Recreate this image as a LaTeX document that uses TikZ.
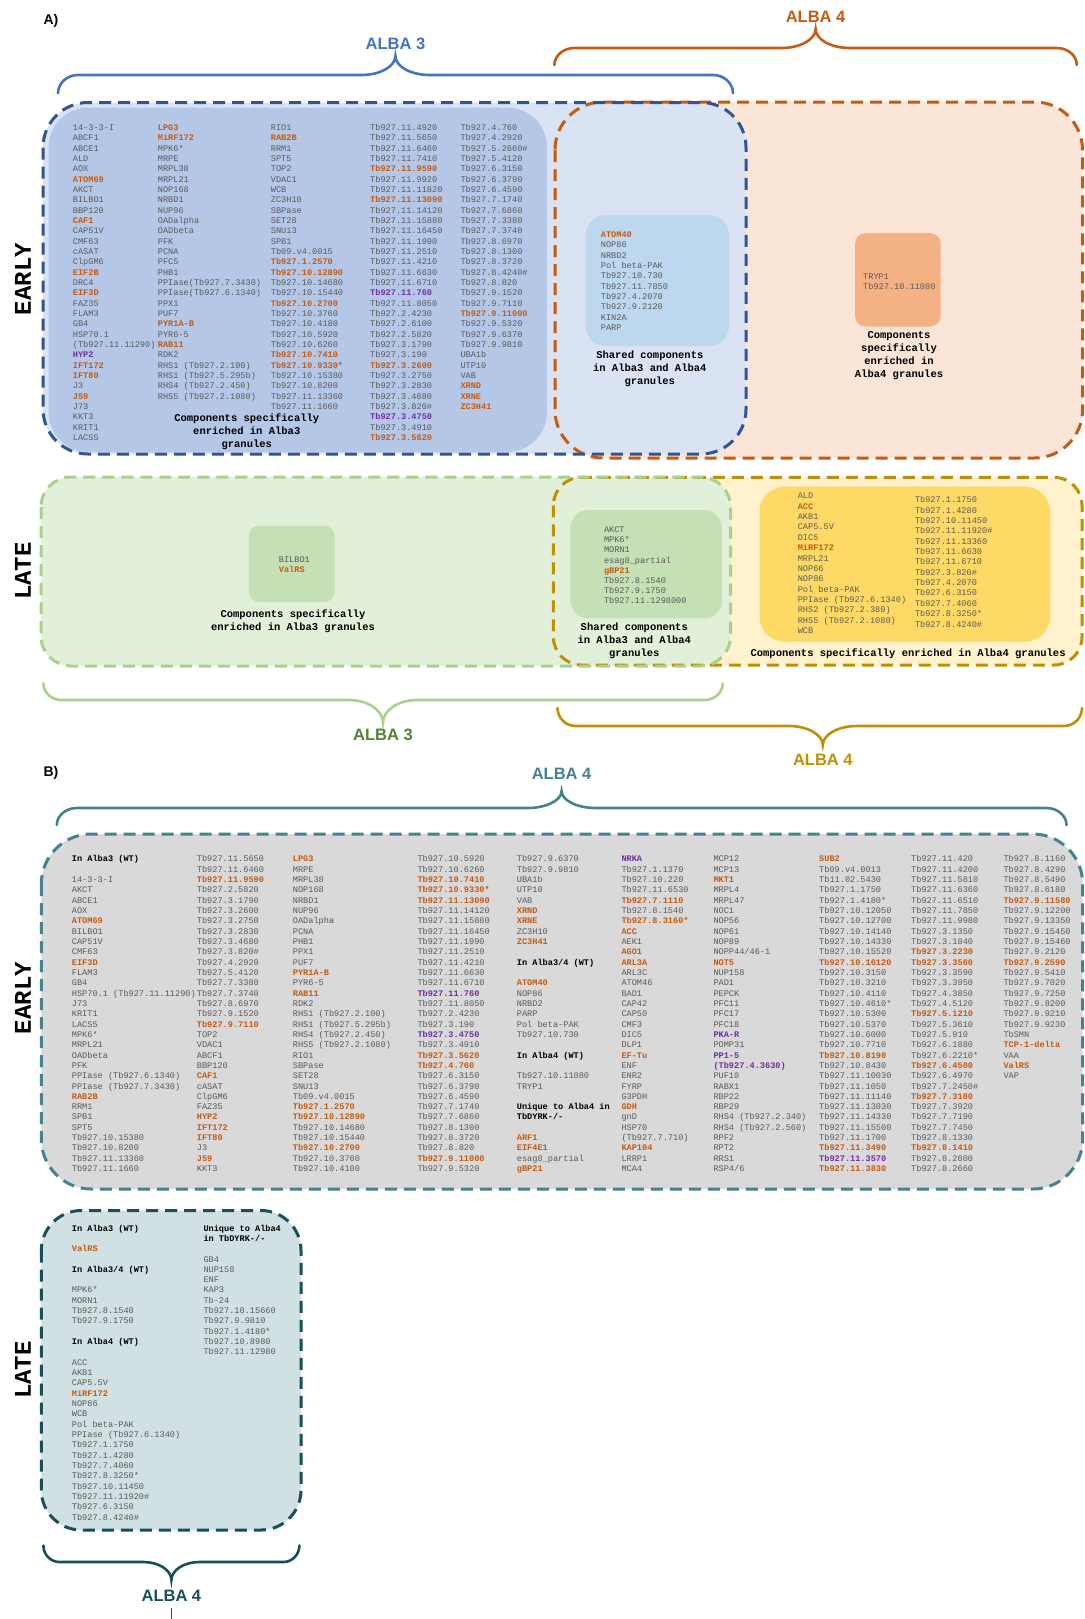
\documentclass[tikz,border=0pt]{standalone}
\usepackage{fontspec}
\setmainfont{Liberation Sans}
\newfontfamily\monof{Liberation Mono}
\newfontfamily\sansf{Liberation Sans}
\definecolor{tgrey}{HTML}{595959}
\definecolor{orng}{HTML}{C55A11}
\definecolor{purp}{HTML}{7030A0}
\definecolor{blueL}{HTML}{4472C4}
\definecolor{blueD}{HTML}{2F5597}
\definecolor{blueFill}{HTML}{DAE3F3}
\definecolor{blueBox}{HTML}{B4C7E7}
\definecolor{skyBox}{HTML}{BDD7EE}
\definecolor{orFill}{HTML}{FBE5D6}
\definecolor{orBox}{HTML}{F4B183}
\definecolor{grFill}{HTML}{E2F0D9}
\definecolor{grLine}{HTML}{A9D18E}
\definecolor{grBox}{HTML}{C5E0B4}
\definecolor{grText}{HTML}{548235}
\definecolor{gdFill}{HTML}{FFF2CC}
\definecolor{gdLine}{HTML}{BF9000}
\definecolor{gdBox}{HTML}{FFD966}
\definecolor{gyFill}{HTML}{D9D9D9}
\definecolor{tealL}{HTML}{45818E}
\definecolor{tealFill}{HTML}{D0E0E3}
\definecolor{tealD}{HTML}{174F5B}
\newcommand\orn[1]{\textcolor{orng}{\bfseries #1}}
\newcommand\pur[1]{\textcolor{purp}{\bfseries #1}}
\newcommand\hdr[1]{\textcolor{black}{\bfseries #1}}
% brace: #1 style, #2 L, #3 R, #4 ends y, #5 bar y, #6 tip y, #7 tip x, #8 end radius, #9 tip radius
\newcommand\brc[9]{\draw[#1] (#2,#4) .. controls (#2,{#4+0.55*(#5-#4)}) and ({#2+0.45*#8},#5) .. ({#2+#8},#5) -- ({#7-#9},#5) .. controls ({#7-0.45*#9},#5) and (#7,{#5+0.45*(#6-#5)}) .. (#7,#6) .. controls (#7,{#5+0.45*(#6-#5)}) and ({#7+0.45*#9},#5) .. ({#7+#9},#5) -- ({#3-#8},#5) .. controls ({#3-0.45*#8},#5) and (#3,{#4+0.55*(#5-#4)}) .. (#3,#4);}
\begin{document}
\begin{tikzpicture}[x=1pt,y=-1pt,
  lst/.style={font=\monof\fontsize{8.6}{10.33}\selectfont, text=tgrey, align=left, anchor=north west, inner sep=0pt},
  lbl/.style={font=\monof\bfseries\fontsize{10.5}{13}\selectfont, align=center, anchor=north, inner sep=0pt, text=black},
  hd/.style={font=\sansf\bfseries\fontsize{16.5}{18}\selectfont, inner sep=0pt},
  side/.style={font=\monof\bfseries\fontsize{24}{26}\selectfont, rotate=90, inner sep=0pt, text=black},
  bstroke/.style={line width=2.6pt, line cap=round},
  dsh/.style={line width=3pt, dash pattern=on 12pt off 7pt}]
\useasboundingbox (0,0) rectangle (1084,1619);
\fill[white] (0,0) rectangle (1084,1619);

% ================= Panel A =================
\node[font=\sansf\bfseries\fontsize{14}{16}\selectfont, inner sep=0pt] (labA) at (51,21) {A)};
\node[hd, text=blueL] (alba3top) at (395.4,44.3) {ALBA 3};
\node[hd, text=orng] (alba4top) at (815.6,16.5) {ALBA 4};
\brc{bstroke, blueL}{58}{733}{93.3}{75}{56}{395.4}{20}{34}
\brc{bstroke, orng}{554.4}{1076.8}{65}{48}{29}{815.6}{20}{34}

% early fills
\fill[orFill, rounded corners=48pt] (555,102) rectangle (1082.5,458);
\fill[blueFill, rounded corners=45pt] (43,102.5) rectangle (746,454);
\fill[blueBox, rounded corners=40pt] (48.5,107.5) rectangle (547,452);
\fill[skyBox, rounded corners=20pt] (585.7,215) rectangle (729,346);
\fill[orBox, rounded corners=11pt] (855,233) rectangle (940.7,326.7);
\draw[dsh, orng, rounded corners=48pt] (555,102) rectangle (1082.5,458);
\draw[dsh, blueD, rounded corners=45pt] (43,102.5) rectangle (746,454);

\node[side] (earlyA) at (23,279) {EARLY};

\node[lst] (ae1) at (72.7,123) {\strut 14-3-3-I\\ ABCF1\\ ABCE1\\ ALD\\ AOX\\ \orn{ATOM69}\\ AKCT\\ BILBO1\\ BBP120\\ \orn{CAF1}\\ CAP51V\\ CMF63\\ cASAT\\ ClpGM6\\ \orn{EIF2B}\\ DRC4\\ \orn{EIF3D}\\ FAZ35\\ FLAM3\\ GB4\\ HSP70.1\\ (Tb927.11.11290)\\ \pur{HYP2}\\ \orn{IFT172}\\ \orn{IFT80}\\ J3\\ \orn{J59}\\ J73\\ KKT3\\ KRIT1\\ LACS5};
\node[lst] (ae2) at (157.7,123) {\strut \orn{LPG3}\\ \orn{MiRF172}\\ MPK6*\\ MRPE\\ MRPL38\\ MRPL21\\ NOP168\\ NRBD1\\ NUP96\\ OADalpha\\ OADbeta\\ PFK\\ PCNA\\ PFC5\\ PHB1\\ PPIase(Tb927.7.3430)\\ PPIase(Tb927.6.1340)\\ PPX1\\ PUF7\\ \orn{PYR1A-B}\\ PYR6-5\\ \orn{RAB11}\\ RDK2\\ RHS1 (Tb927.2.100)\\ RHS1 (Tb927.5.295b)\\ RHS4 (Tb927.2.450)\\ RHS5 (Tb927.2.1080)};
\node[lst] (ae3) at (270.7,123) {\strut RIO1\\ \orn{RAB2B}\\ RRM1\\ SPT5\\ TOP2\\ VDAC1\\ WCB\\ ZC3H10\\ SBPase\\ SET28\\ SNU13\\ SPB1\\ Tb09.v4.0015\\ \orn{Tb927.1.2570}\\ \orn{Tb927.10.12890}\\ Tb927.10.14680\\ Tb927.10.15440\\ \orn{Tb927.10.2700}\\ Tb927.10.3760\\ Tb927.10.4180\\ Tb927.10.5920\\ Tb927.10.6260\\ \orn{Tb927.10.7410}\\ \orn{Tb927.10.9330*}\\ Tb927.10.15380\\ Tb927.10.8200\\ Tb927.11.13360\\ Tb927.11.1660};
\node[lst] (ae4) at (370,123) {\strut Tb927.11.4920\\ Tb927.11.5650\\ Tb927.11.6460\\ Tb927.11.7410\\ \orn{Tb927.11.9590}\\ Tb927.11.9920\\ Tb927.11.11820\\ \orn{Tb927.11.13090}\\ Tb927.11.14120\\ Tb927.11.15880\\ Tb927.11.16450\\ Tb927.11.1990\\ Tb927.11.2510\\ Tb927.11.4210\\ Tb927.11.6630\\ Tb927.11.6710\\ \pur{Tb927.11.760}\\ Tb927.11.8050\\ Tb927.2.4230\\ Tb927.2.6100\\ Tb927.2.5820\\ Tb927.3.1790\\ Tb927.3.190\\ \orn{Tb927.3.2600}\\ Tb927.3.2750\\ Tb927.3.2830\\ Tb927.3.4680\\ Tb927.3.820\#\\ \pur{Tb927.3.4750}\\ Tb927.3.4910\\ \orn{Tb927.3.5620}};
\node[lst] (ae5) at (460.3,123) {\strut Tb927.4.760\\ Tb927.4.2920\\ Tb927.5.2660\#\\ Tb927.5.4120\\ Tb927.6.3150\\ Tb927.6.3790\\ Tb927.6.4590\\ Tb927.7.1740\\ Tb927.7.6860\\ Tb927.7.3380\\ Tb927.7.3740\\ Tb927.8.6970\\ Tb927.8.1300\\ Tb927.8.3720\\ Tb927.8.4240\#\\ Tb927.8.820\\ Tb927.9.1520\\ Tb927.9.7110\\ \orn{Tb927.9.11000}\\ Tb927.9.5320\\ Tb927.9.6370\\ Tb927.9.9810\\ UBA1b\\ UTP10\\ VAB\\ \orn{XRND}\\ \orn{XRNE}\\ \orn{ZC3H41}};
\node[lbl] (aeLbl) at (246.8,412.25) {\strut Components specifically\\enriched in Alba3\\granules};

\node[lst] (aeShared) at (600.7,230) {\strut \orn{ATOM40}\\ NOP86\\ NRBD2\\ Pol beta-PAK\\ Tb927.10.730\\ Tb927.11.7850\\ Tb927.4.2070\\ Tb927.9.2120\\ KIN2A\\ PARP};
\node[lbl] (aeSharedLbl) at (649.8,348.95) {\strut Shared components\\in Alba3 and Alba4\\granules};

\node[lst, font=\monof\fontsize{8.6}{10}\selectfont] (aeTryp) at (863,272) {\strut TRYP1\\ Tb927.10.11080};
\node[lbl] (aeTrypLbl) at (899,328.95) {\strut Components\\specifically\\enriched in\\Alba4 granules};

% late fills
\fill[gdFill, rounded corners=28pt] (553.4,477.3) rectangle (1082,665);
\fill[grFill, rounded corners=30pt] (41,477) rectangle (730.5,666);
\fill[grBox, rounded corners=10pt] (248.8,525.5) rectangle (334.5,602);
\fill[grBox, rounded corners=18pt] (570.4,510) rectangle (722,618.3);
\fill[gdBox, rounded corners=25pt] (759.5,486.7) rectangle (1050,641.7);
\draw[dsh, gdLine, rounded corners=28pt] (553.4,477.3) rectangle (1082,665);
\draw[dsh, grLine, rounded corners=30pt] (41,477) rectangle (730.5,666);

\node[side] (lateA) at (23,571) {LATE};

\node[lst] (alBil) at (278.7,554.9) {\strut BILBO1\\ \orn{ValRS}};
\node[lbl] (alBilLbl) at (293,608.25) {\strut Components specifically\\enriched in Alba3 granules};

\node[lst, font=\monof\fontsize{8.6}{10.14}\selectfont] (alShared) at (603.8,525.3) {\strut AKCT\\ MPK6*\\ MORN1\\ esag8\_partial\\ \orn{gBP21}\\ Tb927.8.1540\\ Tb927.9.1750\\ Tb927.11.1298000};
\node[lbl] (alSharedLbl) at (634.3,621.65) {\strut Shared components\\in Alba3 and Alba4\\granules};

\node[lst, font=\monof\fontsize{8.6}{10.38}\selectfont] (al4a) at (797.6,491.3) {\strut ALD\\ \orn{ACC}\\ AKB1\\ CAP5.5V\\ DIC5\\ \orn{MiRF172}\\ MRPL21\\ NOP66\\ NOP86\\ Pol beta-PAK\\ PPIase (Tb927.6.1340)\\ RHS2 (Tb927.2.380)\\ RHS5 (Tb927.2.1080)\\ WCB};
\node[lst, font=\monof\fontsize{8.6}{10.36}\selectfont] (al4b) at (914.8,495.3) {\strut Tb927.1.1750\\ Tb927.1.4280\\ Tb927.10.11450\\ Tb927.11.11920\#\\ Tb927.11.13360\\ Tb927.11.6630\\ Tb927.11.6710\\ Tb927.3.820\#\\ Tb927.4.2070\\ Tb927.6.3150\\ Tb927.7.4060\\ Tb927.8.3250*\\ Tb927.8.4240\#};
\node[lbl] (al4Lbl) at (908.1,647.65) {\strut Components specifically enriched in Alba4 granules};

\brc{bstroke, grLine}{43.4}{722.7}{683.5}{700}{722.7}{383}{18}{34}
\brc{bstroke, gdLine}{557.5}{1082}{708}{726}{745}{822.8}{18}{34}
\node[hd, text=grText] (alba3bot) at (383,735) {ALBA 3};
\node[hd, text=gdLine] (alba4bot) at (822.8,760) {ALBA 4};

% ================= Panel B =================
\node[font=\sansf\bfseries\fontsize{14}{16}\selectfont, inner sep=0pt] (labB) at (51,773) {B)};
\node[hd, text=tealL] (alba4B) at (561.6,774) {ALBA 4};
\brc{bstroke, tealL}{56.8}{1066.5}{825}{808}{791}{561.6}{20}{34}

\fill[gyFill, rounded corners=50pt] (41.3,834) rectangle (1082.7,1189);
\draw[dsh, tealL, rounded corners=50pt] (41.3,834) rectangle (1082.7,1189);
\node[side] (earlyB) at (23,998) {EARLY};

\node[lst] (be1) at (71.7,854.3) {\strut \hdr{In Alba3 (WT)}\\ \\ 14-3-3-I\\ AKCT\\ ABCE1\\ AOX\\ \orn{ATOM69}\\ BILBO1\\ CAP51V\\ CMF63\\ \orn{EIF3D}\\ FLAM3\\ GB4\\ HSP70.1 (Tb927.11.11290)\\ J73\\ KRIT1\\ LACS5\\ MPK6*\\ MRPL21\\ OADbeta\\ PFK\\ PPIase (Tb927.6.1340)\\ PPIase (Tb927.7.3430)\\ \orn{RAB2B}\\ RRM1\\ SPB1\\ SPT5\\ Tb927.10.15380\\ Tb927.10.8200\\ Tb927.11.13360\\ Tb927.11.1660};
\node[lst] (be2) at (196.7,854.3) {\strut Tb927.11.5650\\ Tb927.11.6460\\ \orn{Tb927.11.9590}\\ Tb927.2.5820\\ Tb927.3.1790\\ Tb927.3.2600\\ Tb927.3.2750\\ Tb927.3.2830\\ Tb927.3.4680\\ Tb927.3.820\#\\ Tb927.4.2920\\ Tb927.5.4120\\ Tb927.7.3380\\ Tb927.7.3740\\ Tb927.8.6970\\ Tb927.9.1520\\ \orn{Tb927.9.7110}\\ TOP2\\ VDAC1\\ ABCF1\\ BBP120\\ \orn{CAF1}\\ cASAT\\ ClpGM6\\ FAZ35\\ \orn{HYP2}\\ \orn{IFT172}\\ \orn{IFT80}\\ J3\\ \orn{J59}\\ KKT3};
\node[lst] (be3) at (292.7,854.3) {\strut \orn{LPG3}\\ MRPE\\ MRPL38\\ NOP168\\ NRBD1\\ NUP96\\ OADalpha\\ PCNA\\ PHB1\\ PPX1\\ PUF7\\ \orn{PYR1A-B}\\ PYR6-5\\ \orn{RAB11}\\ RDK2\\ RHS1 (Tb927.2.100)\\ RHS1 (Tb927.5.295b)\\ RHS4 (Tb927.2.450)\\ RHS5 (Tb927.2.1080)\\ RIO1\\ SBPase\\ SET28\\ SNU13\\ Tb09.v4.0015\\ \orn{Tb927.1.2570}\\ \orn{Tb927.10.12890}\\ Tb927.10.14680\\ Tb927.10.15440\\ \orn{Tb927.10.2700}\\ Tb927.10.3760\\ Tb927.10.4180};
\node[lst] (be4) at (417.3,854.3) {\strut Tb927.10.5920\\ Tb927.10.6260\\ \orn{Tb927.10.7410}\\ \orn{Tb927.10.9330*}\\ \orn{Tb927.11.13090}\\ Tb927.11.14120\\ Tb927.11.15880\\ Tb927.11.16450\\ Tb927.11.1990\\ Tb927.11.2510\\ Tb927.11.4210\\ Tb927.11.6630\\ Tb927.11.6710\\ \pur{Tb927.11.760}\\ Tb927.11.8050\\ Tb927.2.4230\\ Tb927.3.190\\ \pur{Tb927.3.4750}\\ Tb927.3.4910\\ \orn{Tb927.3.5620}\\ \orn{Tb927.4.760}\\ Tb927.6.3150\\ Tb927.6.3790\\ Tb927.6.4590\\ Tb927.7.1740\\ Tb927.7.6860\\ Tb927.8.1300\\ Tb927.8.3720\\ Tb927.8.820\\ \orn{Tb927.9.11000}\\ Tb927.9.5320};
\node[lst] (be5) at (516.7,854.3) {\strut Tb927.9.6370\\ Tb927.9.9810\\ UBA1b\\ UTP10\\ VAB\\ \orn{XRND}\\ \orn{XRNE}\\ ZC3H10\\ \orn{ZC3H41}\\ \\ \hdr{In Alba3/4 (WT)}\\ \\ \orn{ATOM40}\\ NOP86\\ NRBD2\\ PARP\\ Pol beta-PAK\\ Tb927.10.730\\ \\ \hdr{In Alba4 (WT)}\\ \\ Tb927.10.11080\\ TRYP1\\ \\ \hdr{Unique to Alba4 in}\\ \hdr{TbDYRK-/-}\\ \\ \orn{ARF1}\\ \orn{EIF4E1}\\ esag8\_partial\\ \orn{gBP21}};
\node[lst] (be6) at (621.3,854.3) {\strut \pur{NRKA}\\ Tb927.1.1370\\ Tb927.10.220\\ Tb927.11.6530\\ \orn{Tb927.7.1110}\\ Tb927.8.1540\\ \orn{Tb927.8.3160*}\\ \orn{ACC}\\ AEK1\\ \orn{AGO1}\\ \orn{ARL3A}\\ ARL3C\\ ATOM46\\ BAD1\\ CAP42\\ CAP50\\ CMF3\\ DIC5\\ DLP1\\ \orn{EF-Tu}\\ ENF\\ ENR2\\ FYRP\\ G3PDH\\ \orn{GDH}\\ gnD\\ HSP70\\ (Tb927.7.710)\\ \orn{KAP104}\\ LRRP1\\ MCA4};
\node[lst] (be7) at (713.3,854.3) {\strut MCP12\\ MCP13\\ \orn{MKT1}\\ MRPL4\\ MRPL47\\ NOC1\\ NOP56\\ NOP61\\ NOP89\\ NOPP44/46-1\\ \orn{NOT5}\\ NUP158\\ PAD1\\ PEPCK\\ PFC11\\ PFC17\\ PFC18\\ \pur{PKA-R}\\ POMP31\\ \pur{PP1-5}\\ \pur{(Tb927.4.3630)}\\ PUF10\\ RABX1\\ RBP22\\ RBP29\\ RHS4 (Tb927.2.340)\\ RHS4 (Tb927.2.560)\\ RPF2\\ RPT2\\ RRS1\\ RSP4/6};
\node[lst] (be8) at (819,854.3) {\strut \orn{SUB2}\\ Tb09.v4.0013\\ Tb11.02.5430\\ Tb927.1.1750\\ Tb927.1.4180*\\ Tb927.10.12050\\ Tb927.10.12700\\ Tb927.10.14140\\ Tb927.10.14330\\ Tb927.10.15520\\ \orn{Tb927.10.16120}\\ Tb927.10.3150\\ Tb927.10.3210\\ Tb927.10.4110\\ Tb927.10.4610*\\ Tb927.10.5300\\ Tb927.10.5370\\ Tb927.10.6000\\ Tb927.10.7710\\ \orn{Tb927.10.8190}\\ Tb927.10.8430\\ Tb927.11.10030\\ Tb927.11.1050\\ Tb927.11.11140\\ Tb927.11.13030\\ Tb927.11.14330\\ Tb927.11.15500\\ Tb927.11.1700\\ \orn{Tb927.11.3490}\\ \pur{Tb927.11.3570}\\ \orn{Tb927.11.3830}};
\node[lst] (be9) at (911,854.3) {\strut Tb927.11.420\\ Tb927.11.4200\\ Tb927.11.5810\\ Tb927.11.6360\\ Tb927.11.6510\\ Tb927.11.7850\\ Tb927.11.9980\\ Tb927.3.1350\\ Tb927.3.1840\\ \orn{Tb927.3.2230}\\ \orn{Tb927.3.3560}\\ Tb927.3.3590\\ Tb927.3.3950\\ Tb927.4.3850\\ Tb927.4.5120\\ \orn{Tb927.5.1210}\\ Tb927.5.3610\\ Tb927.5.910\\ Tb927.6.1880\\ Tb927.6.2210*\\ \orn{Tb927.6.4500}\\ Tb927.6.4970\\ Tb927.7.2450\#\\ \orn{Tb927.7.3180}\\ Tb927.7.3920\\ Tb927.7.7190\\ Tb927.7.7450\\ Tb927.8.1330\\ \orn{Tb927.8.1410}\\ Tb927.8.2600\\ Tb927.8.2660};
\node[lst] (be10) at (1003.3,854.3) {\strut Tb927.8.1160\\ Tb927.8.4290\\ Tb927.8.5490\\ Tb927.8.6180\\ \orn{Tb927.9.11580}\\ Tb927.9.12200\\ Tb927.9.13350\\ Tb927.9.15450\\ Tb927.9.15460\\ Tb927.9.2120\\ \orn{Tb927.9.2590}\\ Tb927.9.5410\\ Tb927.9.7020\\ Tb927.9.7250\\ Tb927.9.8200\\ Tb927.9.9210\\ Tb927.9.9230\\ TbSMN\\ \orn{TCP-1-delta}\\ VAA\\ \orn{ValRS}\\ VAP};

% late B
\fill[tealFill, rounded corners=40pt] (41.3,1210.5) rectangle (301,1530);
\draw[dsh, tealD, rounded corners=40pt] (41.3,1210.5) rectangle (301,1530);
\node[side] (lateB) at (23,1370) {LATE};

\node[lst, font=\monof\fontsize{8.6}{10.32}\selectfont] (bl1) at (71.7,1223.6) {\strut \hdr{In Alba3 (WT)}\\ \\ \orn{ValRS}\\ \\ \hdr{In Alba3/4 (WT)}\\ \\ MPK6*\\ MORN1\\ Tb927.8.1540\\ Tb927.9.1750\\ \\ \hdr{In Alba4 (WT)}\\ \\ ACC\\ AKB1\\ CAP5.5V\\ \orn{MiRF172}\\ NOP86\\ WCB\\ Pol beta-PAK\\ PPIase (Tb927.6.1340)\\ Tb927.1.1750\\ Tb927.1.4280\\ Tb927.7.4060\\ Tb927.8.3250*\\ Tb927.10.11450\\ Tb927.11.11920\#\\ Tb927.6.3150\\ Tb927.8.4240\#};
\node[lst, font=\monof\fontsize{8.6}{10.32}\selectfont] (bl2) at (203.3,1223.6) {\strut \hdr{Unique to Alba4}\\ \hdr{in TbDYRK-/-}\\ \\ GB4\\ NUP158\\ ENF\\ KAP3\\ Tb-24\\ Tb927.10.15660\\ Tb927.9.9810\\ Tb927.1.4180*\\ Tb927.10.8980\\ Tb927.11.12980};

\brc{bstroke, tealD}{43.4}{299.4}{1545.5}{1562}{1580}{171.4}{16}{28}
\node[hd, text=tealD] (alba4Bbot) at (171.4,1596) {ALBA 4};
\coordinate (tickEnd) at (171.4,1619);
\draw[tealD, line width=1.5pt] ([yshift=-6pt]alba4Bbot.south) -- (tickEnd);
\end{tikzpicture}
\end{document}
